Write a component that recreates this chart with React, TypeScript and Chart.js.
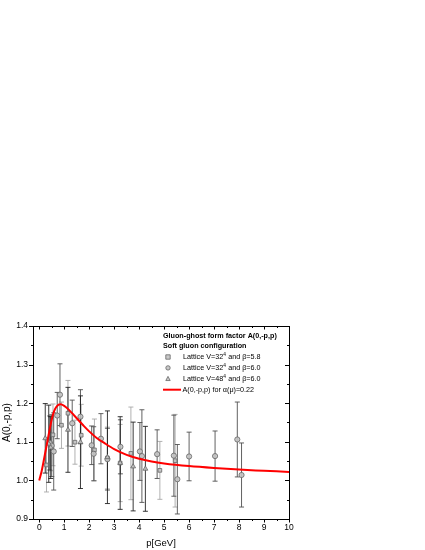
import React, { useEffect, useRef } from "react";
import { Chart, registerables } from "chart.js";

Chart.register(...registerables);

// ---- data ----
const xTickValues = [0, 1, 2, 3, 4, 5, 6, 7, 8, 9, 10];
const yTickValues = [0.9, 1.0, 1.1, 1.2, 1.3, 1.4];

// Lattice V=32^4, beta=5.8 (squares)
const sqX = [0.29, 0.45, 0.55, 0.89, 1.15, 1.43, 1.68, 2.21, 2.73, 3.24, 3.67, 4.83, 5.44];
const sqY = [1.040, 1.095, 1.118, 1.143, 1.174, 1.099, 1.117, 1.079, 1.058, 1.045, 1.070, 1.026, 1.051];
const sqErr = [0.07, 0.07, 0.08, 0.06, 0.085, 0.057, 0.08, 0.08, 0.08, 0.1, 0.12, 0.075, 0.12];

// Lattice V=32^4, beta=6.0 (circles)
const ciX = [0.42, 0.5, 0.58, 0.72, 0.83, 1.32, 1.65, 2.1, 2.18, 2.47, 2.73, 3.25, 4.03, 4.11, 4.72, 5.39, 5.53, 6.0, 7.04, 7.93, 8.1];
const ciY = [1.097, 1.09, 1.075, 1.168, 1.222, 1.148, 1.165, 1.091, 1.069, 1.108, 1.055, 1.087, 1.075, 1.063, 1.068, 1.064, 1.003, 1.062, 1.063, 1.106, 1.014];
const ciErr = [0.07, 0.08, 0.1, 0.06, 0.08, 0.06, 0.07, 0.05, 0.07, 0.065, 0.08, 0.07, 0.075, 0.12, 0.063, 0.105, 0.09, 0.063, 0.065, 0.097, 0.083];

// Lattice V=48^4, beta=6.0 (triangles)
const trX = [0.24, 0.38, 0.46, 1.15, 1.65, 2.73, 3.24, 3.76, 4.25];
const trY = [1.109, 1.095, 1.085, 1.131, 1.099, 1.06, 1.045, 1.036, 1.030];
const trErr = [0.09, 0.1, 0.08, 0.11, 0.12, 0.12, 0.12, 0.115, 0.11];

// A(0,-p,p) curve for alpha(mu)=0.22
const curveX = [0, 0.1, 0.2, 0.3, 0.4, 0.5, 0.6, 0.7, 0.85, 1.0, 1.2, 1.4, 1.6, 1.8, 2.0, 2.3, 2.6, 3.0, 3.5, 4.0, 4.5, 5.0, 6.0, 7.0, 8.0, 9.0, 10.0];
const curveY = [1.000, 1.025, 1.058, 1.092, 1.126, 1.158, 1.180, 1.192, 1.197, 1.193, 1.182, 1.168, 1.154, 1.140, 1.127, 1.110, 1.097, 1.081, 1.066, 1.056, 1.049, 1.044, 1.037, 1.032, 1.028, 1.025, 1.022];

const legendTitle = ["Gluon-ghost form factor A(0,-p,p)", "Soft gluon configuration"];
const legendEntries = [
  { pre: "Lattice V=32", sup: "4", post: " and \u03b2=5.8", shape: "rect" },
  { pre: "Lattice V=32", sup: "4", post: " and \u03b2=6.0", shape: "circle" },
  { pre: "Lattice V=48", sup: "4", post: " and \u03b2=6.0", shape: "triangle" },
];
const curveLabel = "A(0,-p,p) for \u03b1(\u03bc)=0.22";

const FONT = "'Liberation Sans', Arial, sans-serif";
const MARK_FILL = "rgba(195,195,195,0.9)";
const MARK_EDGE = "#666666";

const toPts = (xs: number[], ys: number[]) => xs.map((x, i) => ({ x, y: ys[i] }));

const errorSets = [
  { xs: sqX, ys: sqY, es: sqErr, color: "#a8a8a8" },
  { xs: ciX, ys: ciY, es: ciErr, color: "#505050" },
  { xs: trX, ys: trY, es: trErr, color: "#222222" },
];

function drawMarker(ctx: CanvasRenderingContext2D, shape: string, x: number, y: number, r: number) {
  ctx.save();
  ctx.fillStyle = MARK_FILL;
  ctx.strokeStyle = MARK_EDGE;
  ctx.lineWidth = 0.8;
  ctx.beginPath();
  if (shape === "rect") {
    ctx.rect(x - r, y - r, 2 * r, 2 * r);
  } else if (shape === "circle") {
    ctx.arc(x, y, r, 0, Math.PI * 2);
  } else {
    ctx.moveTo(x, y - r * 1.1);
    ctx.lineTo(x + r, y + r * 0.8);
    ctx.lineTo(x - r, y + r * 0.8);
    ctx.closePath();
  }
  ctx.fill();
  ctx.stroke();
  ctx.restore();
}

const framePlugin = {
  id: "framePlugin",
  beforeDatasetsDraw(chart: any) {
    const ctx = chart.ctx as CanvasRenderingContext2D;
    const xs = chart.scales.x;
    const ys = chart.scales.y;
    ctx.save();
    ctx.lineWidth = 0.9;
    errorSets.forEach((s) => {
      ctx.strokeStyle = s.color;
      s.xs.forEach((xv, i) => {
        const px = xs.getPixelForValue(xv);
        const p1 = ys.getPixelForValue(s.ys[i] + s.es[i]);
        const p2 = ys.getPixelForValue(s.ys[i] - s.es[i]);
        ctx.beginPath();
        ctx.moveTo(px, p1);
        ctx.lineTo(px, p2);
        ctx.moveTo(px - 2.5, p1);
        ctx.lineTo(px + 2.5, p1);
        ctx.moveTo(px - 2.5, p2);
        ctx.lineTo(px + 2.5, p2);
        ctx.stroke();
      });
    });
    ctx.restore();
  },
  afterDraw(chart: any) {
    const ctx = chart.ctx as CanvasRenderingContext2D;
    const a = chart.chartArea;
    const xs = chart.scales.x;
    const ys = chart.scales.y;
    ctx.save();
    ctx.strokeStyle = "#000";
    ctx.lineWidth = 1;
    ctx.strokeRect(Math.round(a.left) + 0.5, Math.round(a.top) + 0.5, Math.round(a.right - a.left), Math.round(a.bottom - a.top));
    ctx.beginPath();
    xTickValues.forEach((v) => {
      const px = Math.round(xs.getPixelForValue(v)) + 0.5;
      ctx.moveTo(px, a.bottom);
      ctx.lineTo(px, a.bottom + 3.5);
      ctx.moveTo(px, a.top);
      ctx.lineTo(px, a.top + 3.5);
      const mv = v + 0.5;
      if (mv < 10) {
        const pm = Math.round(xs.getPixelForValue(mv)) + 0.5;
        ctx.moveTo(pm, a.bottom);
        ctx.lineTo(pm, a.bottom + 2);
        ctx.moveTo(pm, a.top);
        ctx.lineTo(pm, a.top + 2);
      }
    });
    yTickValues.forEach((v) => {
      const py = Math.round(ys.getPixelForValue(v)) + 0.5;
      ctx.moveTo(a.left, py);
      ctx.lineTo(a.left - 4, py);
      ctx.moveTo(a.right, py);
      ctx.lineTo(a.right - 4, py);
      const mv = v + 0.05;
      if (mv < 1.4) {
        const pm = Math.round(ys.getPixelForValue(mv)) + 0.5;
        ctx.moveTo(a.left, pm);
        ctx.lineTo(a.left - 2, pm);
        ctx.moveTo(a.right, pm);
        ctx.lineTo(a.right - 2, pm);
      }
    });
    ctx.stroke();

    // legend
    const lx = a.left + 130;
    const fs = 7.2;
    ctx.fillStyle = "#000";
    ctx.textBaseline = "middle";
    ctx.textAlign = "left";
    ctx.font = `bold ${fs}px ${FONT}`;
    ctx.fillText(legendTitle[0], lx, a.top + 10.5);
    ctx.fillText(legendTitle[1], lx, a.top + 20);
    let ly = a.top + 31;
    const step = 10.9;
    legendEntries.forEach((e) => {
      drawMarker(ctx, e.shape, lx + 5, ly, 2.2);
      const tx = lx + 20;
      ctx.font = `${fs}px ${FONT}`;
      ctx.fillText(e.pre, tx, ly);
      const w1 = ctx.measureText(e.pre).width;
      ctx.font = `4.8px ${FONT}`;
      ctx.fillText(e.sup, tx + w1 + 0.2, ly - 2.6);
      const w2 = ctx.measureText(e.sup).width;
      ctx.font = `${fs}px ${FONT}`;
      ctx.fillText(e.post, tx + w1 + w2 + 0.4, ly);
      ly += step;
    });
    ctx.strokeStyle = "#ff0000";
    ctx.lineWidth = 2;
    ctx.beginPath();
    ctx.moveTo(lx, ly);
    ctx.lineTo(lx + 18, ly);
    ctx.stroke();
    ctx.font = `${fs}px ${FONT}`;
    ctx.fillText(curveLabel, lx + 19.5, ly);
    ctx.restore();
  },
};

export default function App() {
  const ref = useRef<HTMLCanvasElement | null>(null);
  useEffect(() => {
    if (!ref.current) return;
    const chart = new Chart(ref.current, {
      type: "scatter",
      data: {
        datasets: [
          {
            label: "Lattice V=32^4 and beta=5.8",
            data: toPts(sqX, sqY),
            pointStyle: "rect",
            pointRadius: 2.6,
            backgroundColor: MARK_FILL,
            borderColor: MARK_EDGE,
            borderWidth: 0.8,
            order: 3,
          },
          {
            label: "Lattice V=32^4 and beta=6.0",
            data: toPts(ciX, ciY),
            pointStyle: "circle",
            pointRadius: 2.6,
            backgroundColor: MARK_FILL,
            borderColor: MARK_EDGE,
            borderWidth: 0.8,
            order: 2,
          },
          {
            label: "Lattice V=48^4 and beta=6.0",
            data: toPts(trX, trY),
            pointStyle: "triangle",
            pointRadius: 2.8,
            backgroundColor: MARK_FILL,
            borderColor: MARK_EDGE,
            borderWidth: 0.8,
            order: 1,
          },
          {
            type: "line",
            label: curveLabel,
            data: toPts(curveX, curveY),
            borderColor: "#ff0000",
            borderWidth: 2,
            pointRadius: 0,
            fill: false,
            cubicInterpolationMode: "monotone",
            order: 0,
          } as any,
        ],
      },
      options: {
        animation: false,
        responsive: false,
        layout: { padding: { left: 0, right: 136, top: 326, bottom: 0 } },
        plugins: { legend: { display: false }, tooltip: { enabled: false } },
        scales: {
          x: {
            type: "linear",
            min: -0.25,
            max: 10,
            afterBuildTicks: (s: any) => {
              s.ticks = xTickValues.map((v) => ({ value: v }));
            },
            afterFit: (s: any) => {
              s.height = 31;
            },
            ticks: {
              autoSkip: false,
              maxRotation: 0,
              padding: 4,
              color: "#000",
              font: { family: FONT, size: 8.5 },
              callback: (v: any) => String(v),
            },
            grid: { display: false, drawTicks: false },
            border: { display: false },
            title: {
              display: true,
              text: "p[GeV]",
              color: "#000",
              font: { family: FONT, size: 9.5 },
              padding: { top: 0, bottom: 1 },
            },
          },
          y: {
            type: "linear",
            min: 0.9,
            max: 1.4,
            afterBuildTicks: (s: any) => {
              s.ticks = yTickValues.map((v) => ({ value: v }));
            },
            afterFit: (s: any) => {
              s.width = 33;
            },
            ticks: {
              autoSkip: false,
              padding: 5,
              color: "#000",
              font: { family: FONT, size: 8.5 },
              callback: (v: any) => Number(v).toFixed(1),
            },
            grid: { display: false, drawTicks: false },
            border: { display: false },
            title: {
              display: true,
              text: "A(0,-p,p)",
              color: "#000",
              font: { family: FONT, size: 10 },
              padding: { top: 1, bottom: 0 },
            },
          },
        },
      },
      plugins: [framePlugin],
    });
    return () => chart.destroy();
  }, []);
  return (
    <div style={{ position: "absolute", left: 0, top: 0, width: 425, height: 550 }}>
      <canvas ref={ref} width={425} height={550} style={{ display: "block" }} />
    </div>
  );
}
